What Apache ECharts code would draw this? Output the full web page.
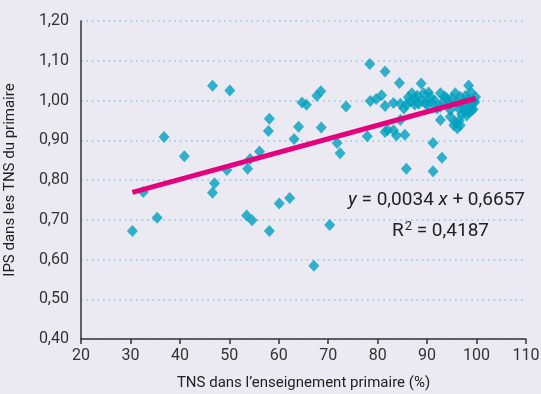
<!DOCTYPE html>
<html><head><meta charset="utf-8">
<script src="https://cdn.jsdelivr.net/npm/echarts@6/dist/echarts.min.js"></script>
<style>html,body{margin:0;padding:0;background:#ebe9f1}#c{width:541px;height:394px}</style>
</head><body><div id="c"></div>
<script>
const tnsValues = [30.4,32.6,35.4,36.8,40.9,46.6,46.6,47.0,49.5,50.1,53.5,54.6,53.7,54.2,56.1,58.1,58.1,57.9,60.1,62.2,63.1,64.0,64.7,65.6,67.1,67.7,68.5,68.6,70.3,71.8,72.4,73.6,
77.9,78.4,78.5,79.7,80.8,81.5,81.5,81.5,82.0,83.2,83.2,83.8,84.4,84.6,84.6,85.3,85.5,85.8,
86.6,86.9,87.6,88.3,88.8,89.3,89.0,90.0,90.7,91.2,91.2,91.5,92.0,92.7,92.7,92.7,93.0,93.5,94.0,94.7,94.7,95.4,95.7,95.7,96.1,96.4,96.7,96.7,97.2,97.5,98.1,98.4,98.4,98.8,99.1,99.5,99.8,99.3,87.5,88.0,89.8,90.3,91.0,93.2,94.5,95.0,97.8,98.9,99.6,85.8,86.2,96.0,97.0,98.0,99.0,96.5,97.3];
const ipsValues = [0.672,0.770,0.705,0.908,0.860,1.037,0.768,0.792,0.825,1.025,0.711,0.699,0.828,0.853,0.872,0.672,0.954,0.923,0.741,0.755,0.903,0.934,0.995,0.989,0.584,1.012,1.023,0.932,0.687,0.893,0.867,0.985,
0.910,1.092,0.999,1.004,1.013,1.073,0.986,0.921,0.926,0.994,0.925,0.912,1.044,0.992,0.951,0.980,0.914,0.828,
0.997,1.018,1.005,0.992,1.043,1.018,1.000,0.988,1.009,0.893,0.822,1.000,0.980,1.018,0.984,0.951,0.856,1.010,1.005,0.976,0.959,0.938,1.018,0.946,0.930,0.980,1.009,0.938,0.995,0.975,1.001,1.038,0.971,0.985,0.992,1.000,1.009,0.978,0.990,1.012,0.995,1.020,0.995,0.995,0.992,1.005,1.012,1.020,0.995,0.990,1.008,0.995,0.965,0.962,0.975,0.950,0.985];
const slope = 0.0034, intercept = 0.6657;
const r2Text = '= 0,4187';
const xTicks = [20,30,40,50,60,70,80,90,100,110];
const yTicks = [0.40,0.50,0.60,0.70,0.80,0.90,1.00,1.10,1.20];

const pts = tnsValues.map((x,i)=>[x, ipsValues[i]]);
const xmin = Math.min(...tnsValues), xmax = Math.max(...tnsValues);
const trend = [[xmin, slope*xmin+intercept],[xmax, slope*xmax+intercept]];
const FF = 'Roboto, "DejaVu Sans", sans-serif';
const chart = echarts.init(document.getElementById('c'), null, {renderer:'canvas'});
chart.setOption({
  backgroundColor:'#ebe9f1',
  animation:false,
  grid:{left:81,right:15,top:21,bottom:55,containLabel:false,outerBoundsMode:'none'},
  xAxis:{type:'value',min:xTicks[0],max:xTicks[xTicks.length-1],interval:10,
    name:'TNS dans l’enseignement primaire (%)',nameLocation:'middle',nameGap:37,
    nameTextStyle:{fontFamily:FF,fontSize:15,color:'#222'},
    axisLine:{lineStyle:{color:'#333',width:1.5}},
    axisTick:{show:true,length:5,lineStyle:{color:'#333',width:1.5}},
    axisLabel:{fontFamily:FF,fontSize:16,color:'#333',margin:9},
    splitLine:{show:false}},
  yAxis:{type:'value',min:yTicks[0],max:yTicks[yTicks.length-1],interval:0.1,
    name:'IPS dans les TNS du primaire',nameLocation:'middle',nameGap:63,
    nameTextStyle:{fontFamily:FF,fontSize:15,color:'#222'},
    axisLine:{show:true,lineStyle:{color:'#333',width:1.5}},
    axisTick:{show:false},
    axisLabel:{fontFamily:FF,fontSize:16,color:'#333',margin:12,
      formatter:v=>v.toFixed(2).replace('.',',')},
    splitLine:{show:true,lineStyle:{color:'#8cc7e0',type:[1.5,4],width:1.5}}},
  series:[
    {type:'scatter',data:pts,symbol:'diamond',symbolSize:[11,12],
     itemStyle:{color:'#00a0bf'},z:2},
    {type:'line',data:trend,symbol:'none',lineStyle:{color:'#e5007e',width:5},z:3}
  ],
  graphic:[
    {type:'text',right:16,top:191,style:{
      text:'{i|y} = 0,0034 {i|x} + 0,6657',
      rich:{i:{fontStyle:'italic',fontFamily:FF,fontSize:19,fill:'#222'}},
      fontFamily:FF,fontSize:19,fill:'#222'}},
    {type:'text',left:392,top:220,style:{
      text:'R{s|2} '+r2Text,
      rich:{s:{fontSize:13,fontFamily:FF,fill:'#222',padding:[0,0,9,1]}},
      fontFamily:FF,fontSize:19,fill:'#222'}}
  ]
});
</script></body></html>
